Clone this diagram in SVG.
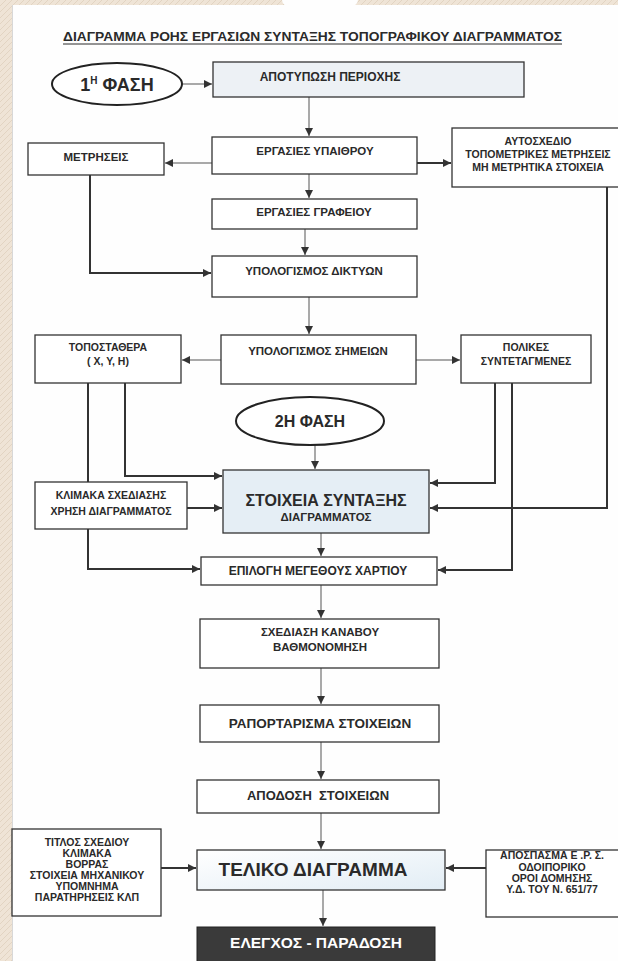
<svg xmlns="http://www.w3.org/2000/svg" width="618" height="961" viewBox="0 0 618 961">
<defs>
<style>
text{font-family:"Liberation Sans",Arial,sans-serif;font-weight:bold;fill:#2a2a2a;text-anchor:middle}
.box{fill:#fff;stroke:#333;stroke-width:1.3}
.c{fill:none;stroke:#555;stroke-width:1}
.t{fill:none;stroke:#333;stroke-width:2}
.s11{font-size:11.5px}
.s10{font-size:10.5px}
</style>
<marker id="ah" viewBox="0 0 10 10" refX="10" refY="5" markerWidth="8" markerHeight="8" markerUnits="userSpaceOnUse" orient="auto">
<path d="M0,0 L10,5 L0,10 z" fill="#333"/>
</marker>
<linearGradient id="gt" x1="0" y1="0" x2="1" y2="1">
<stop offset="0" stop-color="#ffffff"/>
<stop offset="1" stop-color="#e2edf5"/>
</linearGradient>
<pattern id="bg" width="6" height="6" patternUnits="userSpaceOnUse">
<rect width="6" height="6" fill="#efe4d6"/>
<path d="M0,6 L6,0" stroke="#e2d4c2" stroke-width="1"/>
</pattern>
</defs>
<rect width="618" height="961" fill="url(#bg)"/>
<rect x="12" y="5" width="606" height="956" fill="#fefefe"/>
<ellipse cx="320" cy="0" rx="38" ry="14" fill="#fefefe"/>
<line x1="12.5" y1="5" x2="12.5" y2="961" stroke="#d8d8d8" stroke-width="1"/>

<g id="title">
<text x="312.5" y="41" font-size="12.5" textLength="499" lengthAdjust="spacingAndGlyphs">ΔΙΑΓΡΑΜΜΑ ΡΟΗΣ ΕΡΓΑΣΙΩΝ ΣΥΝΤΑΞΗΣ ΤΟΠΟΓΡΑΦΙΚΟΥ ΔΙΑΓΡΑΜΜΑΤΟΣ</text>
<line x1="63" y1="44" x2="562" y2="44" stroke="#2a2a2a" stroke-width="1"/>
</g>

<g id="connectors">
<line class="c" x1="182" y1="84" x2="212" y2="84" marker-end="url(#ah)"/>
<line class="c" x1="309" y1="97" x2="309" y2="136" marker-end="url(#ah)"/>
<line class="c" x1="212" y1="163" x2="165" y2="163" marker-end="url(#ah)"/>
<line class="t" x1="417" y1="163" x2="451" y2="163" marker-end="url(#ah)"/>
<line class="c" x1="309" y1="174" x2="309" y2="198" marker-end="url(#ah)"/>
<line class="c" x1="305" y1="229" x2="305" y2="255" marker-end="url(#ah)"/>
<path class="t" d="M90,175 V273 H211" marker-end="url(#ah)"/>
<line class="c" x1="309" y1="297" x2="309" y2="334" marker-end="url(#ah)"/>
<line class="c" x1="221" y1="360" x2="182" y2="360" marker-end="url(#ah)"/>
<line class="c" x1="416" y1="360" x2="460" y2="360" marker-end="url(#ah)"/>
<line class="c" x1="315" y1="445" x2="315" y2="469" marker-end="url(#ah)"/>
<path class="t" d="M125,383 V476 H222" marker-end="url(#ah)"/>
<path class="t" d="M88,383 V569 H200" marker-end="url(#ah)"/>
<line class="t" x1="187" y1="508" x2="222" y2="508" marker-end="url(#ah)"/>
<path class="t" d="M495,383 V483 H430" marker-end="url(#ah)"/>
<path class="t" d="M512,383 V570 H438" marker-end="url(#ah)"/>
<path class="t" d="M607,187 V508 H430" marker-end="url(#ah)"/>
<line class="c" x1="321" y1="533" x2="321" y2="556" marker-end="url(#ah)"/>
<line class="c" x1="321" y1="585" x2="321" y2="618" marker-end="url(#ah)"/>
<line class="c" x1="321" y1="668" x2="321" y2="704" marker-end="url(#ah)"/>
<line class="c" x1="321" y1="742" x2="321" y2="779" marker-end="url(#ah)"/>
<line class="c" x1="321" y1="813" x2="321" y2="849" marker-end="url(#ah)"/>
<line class="t" x1="161" y1="868" x2="196" y2="868" marker-end="url(#ah)"/>
<line class="t" x1="486" y1="868" x2="446" y2="868" marker-end="url(#ah)"/>
<line class="c" x1="323" y1="890" x2="323" y2="926" marker-end="url(#ah)"/>
</g>

<g id="phase1">
<ellipse cx="117" cy="84" rx="65" ry="21" fill="#fff" stroke="#222" stroke-width="2"/>
<text x="117" y="91" font-size="18">1<tspan font-size="10" dy="-7">Η</tspan><tspan dy="7">  ΦΑΣΗ</tspan></text>
</g>
<g id="apotyposi">
<rect class="box" x="213" y="62" width="311" height="35" style="fill:#edf1f5"/>
<text x="330" y="81" font-size="12">ΑΠΟΤΥΠΩΣΗ ΠΕΡΙΟΧΗΣ</text>
</g>
<g id="ypaithrou">
<rect class="box" x="212" y="137" width="205" height="37"/>
<text class="s11" x="315" y="155">ΕΡΓΑΣΙΕΣ ΥΠΑΙΘΡΟΥ</text>
</g>
<g id="metriseis">
<rect class="box" x="28" y="143" width="136" height="32"/>
<text class="s11" x="96" y="161">ΜΕΤΡΗΣΕΙΣ</text>
</g>
<g id="autoschedio">
<rect class="box" x="452" y="128" width="190" height="59"/>
<text class="s10" x="538" y="145">ΑΥΤΟΣΧΕΔΙΟ</text>
<text class="s10" x="538" y="158">ΤΟΠΟΜΕΤΡΙΚΕΣ ΜΕΤΡΗΣΕΙΣ</text>
<text class="s10" x="538" y="171">ΜΗ ΜΕΤΡΗΤΙΚΑ ΣΤΟΙΧΕΙΑ</text>
</g>
<g id="grafeiou">
<rect class="box" x="212" y="199" width="205" height="30"/>
<text class="s11" x="314" y="216">ΕΡΓΑΣΙΕΣ ΓΡΑΦΕΙΟΥ</text>
</g>
<g id="diktyon">
<rect class="box" x="212" y="256" width="205" height="41"/>
<text class="s11" x="314" y="275">ΥΠΟΛΟΓΙΣΜΟΣ ΔΙΚΤΥΩΝ</text>
</g>
<g id="topostathera">
<rect class="box" x="35" y="335" width="146" height="48"/>
<text class="s10" x="108" y="351">ΤΟΠΟΣΤΑΘΕΡΑ</text>
<text class="s10" x="108" y="365" font-weight="normal">( X, Y, H)</text>
</g>
<g id="simeion">
<rect class="box" x="221" y="335" width="195" height="49"/>
<text class="s11" x="318" y="355">ΥΠΟΛΟΓΙΣΜΟΣ ΣΗΜΕΙΩΝ</text>
</g>
<g id="polikes">
<rect class="box" x="461" y="335" width="130" height="48"/>
<text class="s10" x="526" y="351">ΠΟΛΙΚΕΣ</text>
<text class="s10" x="526" y="365">ΣΥΝΤΕΤΑΓΜΕΝΕΣ</text>
</g>
<g id="phase2">
<ellipse cx="310" cy="421" rx="74" ry="24" fill="#fff" stroke="#222" stroke-width="2"/>
<text x="310" y="427" font-size="16">2Η ΦΑΣΗ</text>
</g>
<g id="klimaka">
<rect class="box" x="35" y="482" width="152" height="47"/>
<text class="s10" x="111" y="499">ΚΛΙΜΑΚΑ ΣΧΕΔΙΑΣΗΣ</text>
<text class="s10" x="111" y="515">ΧΡΗΣΗ ΔΙΑΓΡΑΜΜΑΤΟΣ</text>
</g>
<g id="stoixeia">
<rect class="box" x="223" y="470" width="206" height="63" style="fill:#e5eef5"/>
<text x="326" y="506" font-size="16">ΣΤΟΙΧΕΙΑ ΣΥΝΤΑΞΗΣ</text>
<text class="s11" x="326" y="521">ΔΙΑΓΡΑΜΜΑΤΟΣ</text>
</g>
<g id="epilogi">
<rect class="box" x="201" y="557" width="236" height="28"/>
<text x="318" y="575" font-size="12">ΕΠΙΛΟΓΗ ΜΕΓΕΘΟΥΣ ΧΑΡΤΙΟΥ</text>
</g>
<g id="schediasi">
<rect class="box" x="200" y="619" width="239" height="49"/>
<text class="s11" x="320" y="636">ΣΧΕΔΙΑΣΗ ΚΑΝΑΒΟΥ</text>
<text class="s11" x="320" y="651">ΒΑΘΜΟΝΟΜΗΣΗ</text>
</g>
<g id="raportarisma">
<rect class="box" x="200" y="705" width="239" height="37"/>
<text x="320" y="728" font-size="13.5">ΡΑΠΟΡΤΑΡΙΣΜΑ ΣΤΟΙΧΕΙΩΝ</text>
</g>
<g id="apodosi">
<rect class="box" x="197" y="780" width="242" height="33"/>
<text x="318" y="800" font-size="13" xml:space="preserve">ΑΠΟΔΟΣΗ  ΣΤΟΙΧΕΙΩΝ</text>
</g>
<g id="teliko">
<rect class="box" x="197" y="850" width="248" height="40" style="fill:url(#gt)"/>
<text x="313" y="876" font-size="19">ΤΕΛΙΚΟ ΔΙΑΓΡΑΜΜΑ</text>
</g>
<g id="titlos">
<rect class="box" x="12" y="829" width="149" height="87"/>
<text class="s10" x="87" y="846">ΤΙΤΛΟΣ ΣΧΕΔΙΟΥ</text>
<text class="s10" x="87" y="857">ΚΛΙΜΑΚΑ</text>
<text class="s10" x="87" y="868">ΒΟΡΡΑΣ</text>
<text class="s10" x="87" y="879">ΣΤΟΙΧΕΙΑ ΜΗΧΑΝΙΚΟΥ</text>
<text class="s10" x="87" y="890">ΥΠΟΜΝΗΜΑ</text>
<text class="s10" x="87" y="901">ΠΑΡΑΤΗΡΗΣΕΙΣ ΚΛΠ</text>
</g>
<g id="apospasma">
<rect class="box" x="486" y="850" width="150" height="67"/>
<text class="s10" x="552" y="859">ΑΠΟΣΠΑΣΜΑ Ε .Ρ. Σ.</text>
<text class="s10" x="552" y="871">ΟΔΟΙΠΟΡΙΚΟ</text>
<text class="s10" x="552" y="882">ΟΡΟΙ ΔΟΜΗΣΗΣ</text>
<text class="s10" x="552" y="893">Υ.Δ. ΤΟΥ Ν. 651/77</text>
</g>
<g id="elegxos">
<rect x="197" y="927" width="238" height="40" fill="#3a3a3a" stroke="#222" stroke-width="1"/>
<text x="316" y="948" font-size="15.5" style="fill:#ffffff">ΕΛΕΓΧΟΣ - ΠΑΡΑΔΟΣΗ</text>
</g>
</svg>
